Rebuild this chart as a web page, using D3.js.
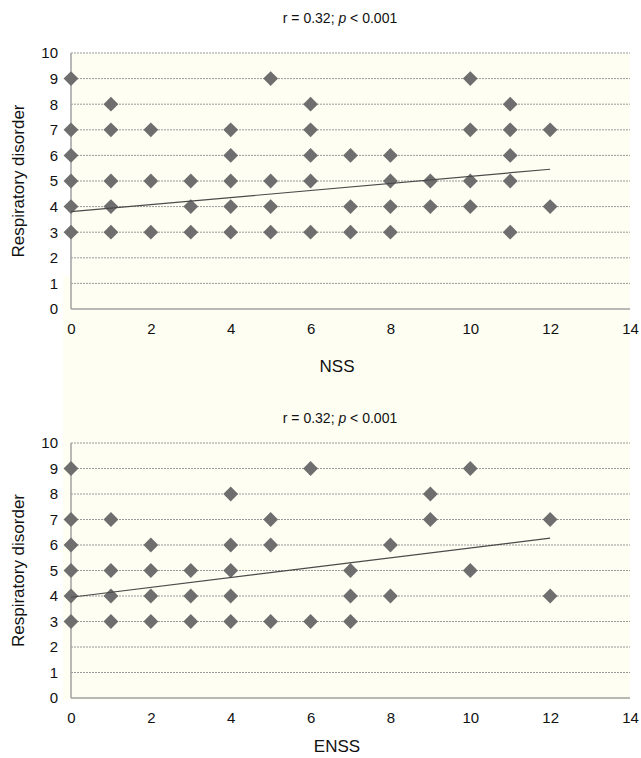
<!DOCTYPE html>
<html>
<head>
<meta charset="utf-8">
<script src="https://cdnjs.cloudflare.com/ajax/libs/d3/7.8.5/d3.min.js"></script>
<style>
  body { margin: 0; background: #fff; }
  text { font-family: "Liberation Sans", Arial, sans-serif; fill: #111; }
</style>
</head>
<body>
<div id="chart-area"></div>
<script>
// NSS panel: x score and respiratory disorder score
var nssX = [0,0,0,0,0,0, 1,1,1,1,1, 2,2,2, 3,3,3, 4,4,4,4,4, 5,5,5,5, 6,6,6,6,6, 7,7,7, 8,8,8,8, 9,9, 10,10,10,10, 11,11,11,11,11, 12,12];
var nssY = [9,7,6,5,4,3, 8,7,5,4,3, 7,5,3, 5,4,3, 7,6,5,4,3, 9,5,4,3, 8,7,6,5,3, 6,4,3, 6,5,4,3, 5,4, 9,7,5,4, 8,7,6,5,3, 7,4];
var nssFit = [3.8, 5.46];   // trend line at x = 0 and x = 12

// ENSS panel
var enssX = [0,0,0,0,0,0, 1,1,1,1, 2,2,2,2, 3,3,3, 4,4,4,4,4, 5,5,5, 6,6, 7,7,7, 8,8, 9,9, 10,10, 12,12];
var enssY = [9,7,6,5,4,3, 7,5,4,3, 6,5,4,3, 5,4,3, 8,6,5,4,3, 7,6,3, 9,3, 5,4,3, 6,4, 8,7, 9,5, 7,4];
var enssFit = [3.95, 6.27];

var fitX = [0, 12];
var xTicks = [0, 2, 4, 6, 8, 10, 12, 14];
var yTicks = [0, 1, 2, 3, 4, 5, 6, 7, 8, 9, 10];

var W = 641, H = 758;
var svg = d3.select("#chart-area").append("svg")
    .attr("width", W)
    .attr("height", H);

// cream chart-area of lower panel (it spills up under the top axis)
svg.append("rect")
    .attr("x", 63).attr("y", 276)
    .attr("width", 567).attr("height", 424)
    .attr("fill", "#fefef2");

var panels = [
    { xs: nssX, ys: nssY, fit: nssFit, top: 53, bottom: 309, xLabel: "NSS", titleY: 23, xLabelY: 372 },
    { xs: enssX, ys: enssY, fit: enssFit, top: 443, bottom: 698, xLabel: "ENSS", titleY: 423, xLabelY: 752 }
];

var left = 71, right = 630;
var x = d3.scaleLinear().domain([0, 14]).range([left, right]);

panels.forEach(function(p) {
    var y = d3.scaleLinear().domain([0, 10]).range([p.bottom, p.top]);
    var g = svg.append("g");

    // plot background
    g.append("rect")
        .attr("x", left).attr("y", p.top)
        .attr("width", right - left).attr("height", p.bottom - p.top)
        .attr("fill", "#fefef2");

    // dotted gridlines
    g.selectAll(".grid")
        .data(yTicks.filter(d => d > 0))
        .enter().append("line")
        .attr("x1", left).attr("x2", right)
        .attr("y1", d => y(d)).attr("y2", d => y(d))
        .attr("stroke", "#9a9a9a")
        .attr("stroke-width", 1)
        .attr("stroke-dasharray", "2,1");

    // axes lines
    g.append("line")
        .attr("x1", left).attr("x2", left)
        .attr("y1", p.top).attr("y2", p.bottom)
        .attr("stroke", "#a0a0a0").attr("stroke-width", 1.5);
    g.append("line")
        .attr("x1", left).attr("x2", right)
        .attr("y1", p.bottom).attr("y2", p.bottom)
        .attr("stroke", "#a0a0a0").attr("stroke-width", 1.5);

    // y axis tick labels
    var yAxis = d3.axisLeft(y).tickValues(yTicks).tickSize(0).tickPadding(13);
    var ya = g.append("g").attr("transform", "translate(" + left + ",0)").call(yAxis);
    ya.select(".domain").remove();
    ya.selectAll("text").style("font-size", "15px").attr("fill", "#111");

    // x axis tick labels
    var xAxis = d3.axisBottom(x).tickValues(xTicks).tickSize(0).tickPadding(14);
    var xa = g.append("g").attr("transform", "translate(0," + p.bottom + ")").call(xAxis);
    xa.select(".domain").remove();
    xa.selectAll("text").style("font-size", "15px").attr("fill", "#111");

    // title
    var t = g.append("text")
        .attr("x", 340).attr("y", p.titleY)
        .attr("text-anchor", "middle")
        .style("font-size", "14px");
    t.append("tspan").text("r = 0.32; ");
    t.append("tspan").style("font-style", "italic").text("p");
    t.append("tspan").text(" < 0.001");

    // axis titles
    g.append("text")
        .attr("x", 337).attr("y", p.xLabelY)
        .attr("text-anchor", "middle")
        .style("font-size", "17px")
        .text(p.xLabel);
    g.append("text")
        .attr("transform", "translate(24," + ((p.top + p.bottom) / 2) + ") rotate(-90)")
        .attr("text-anchor", "middle")
        .style("font-size", "17px")
        .text("Respiratory disorder");

    // diamonds
    var diamond = d3.symbol().type(d3.symbolSquare).size(110);
    g.selectAll(".pt")
        .data(p.xs.map((d, i) => [d, p.ys[i]]))
        .enter().append("path")
        .attr("d", diamond)
        .attr("transform", d => "translate(" + x(d[0]) + "," + y(d[1]) + ") rotate(45)")
        .attr("fill", "#6e6e6e");

    // trend line
    g.append("line")
        .attr("x1", x(fitX[0])).attr("y1", y(p.fit[0]))
        .attr("x2", x(fitX[1])).attr("y2", y(p.fit[1]))
        .attr("stroke", "#4a4a4a")
        .attr("stroke-width", 1.2);
});
</script>
</body>
</html>
